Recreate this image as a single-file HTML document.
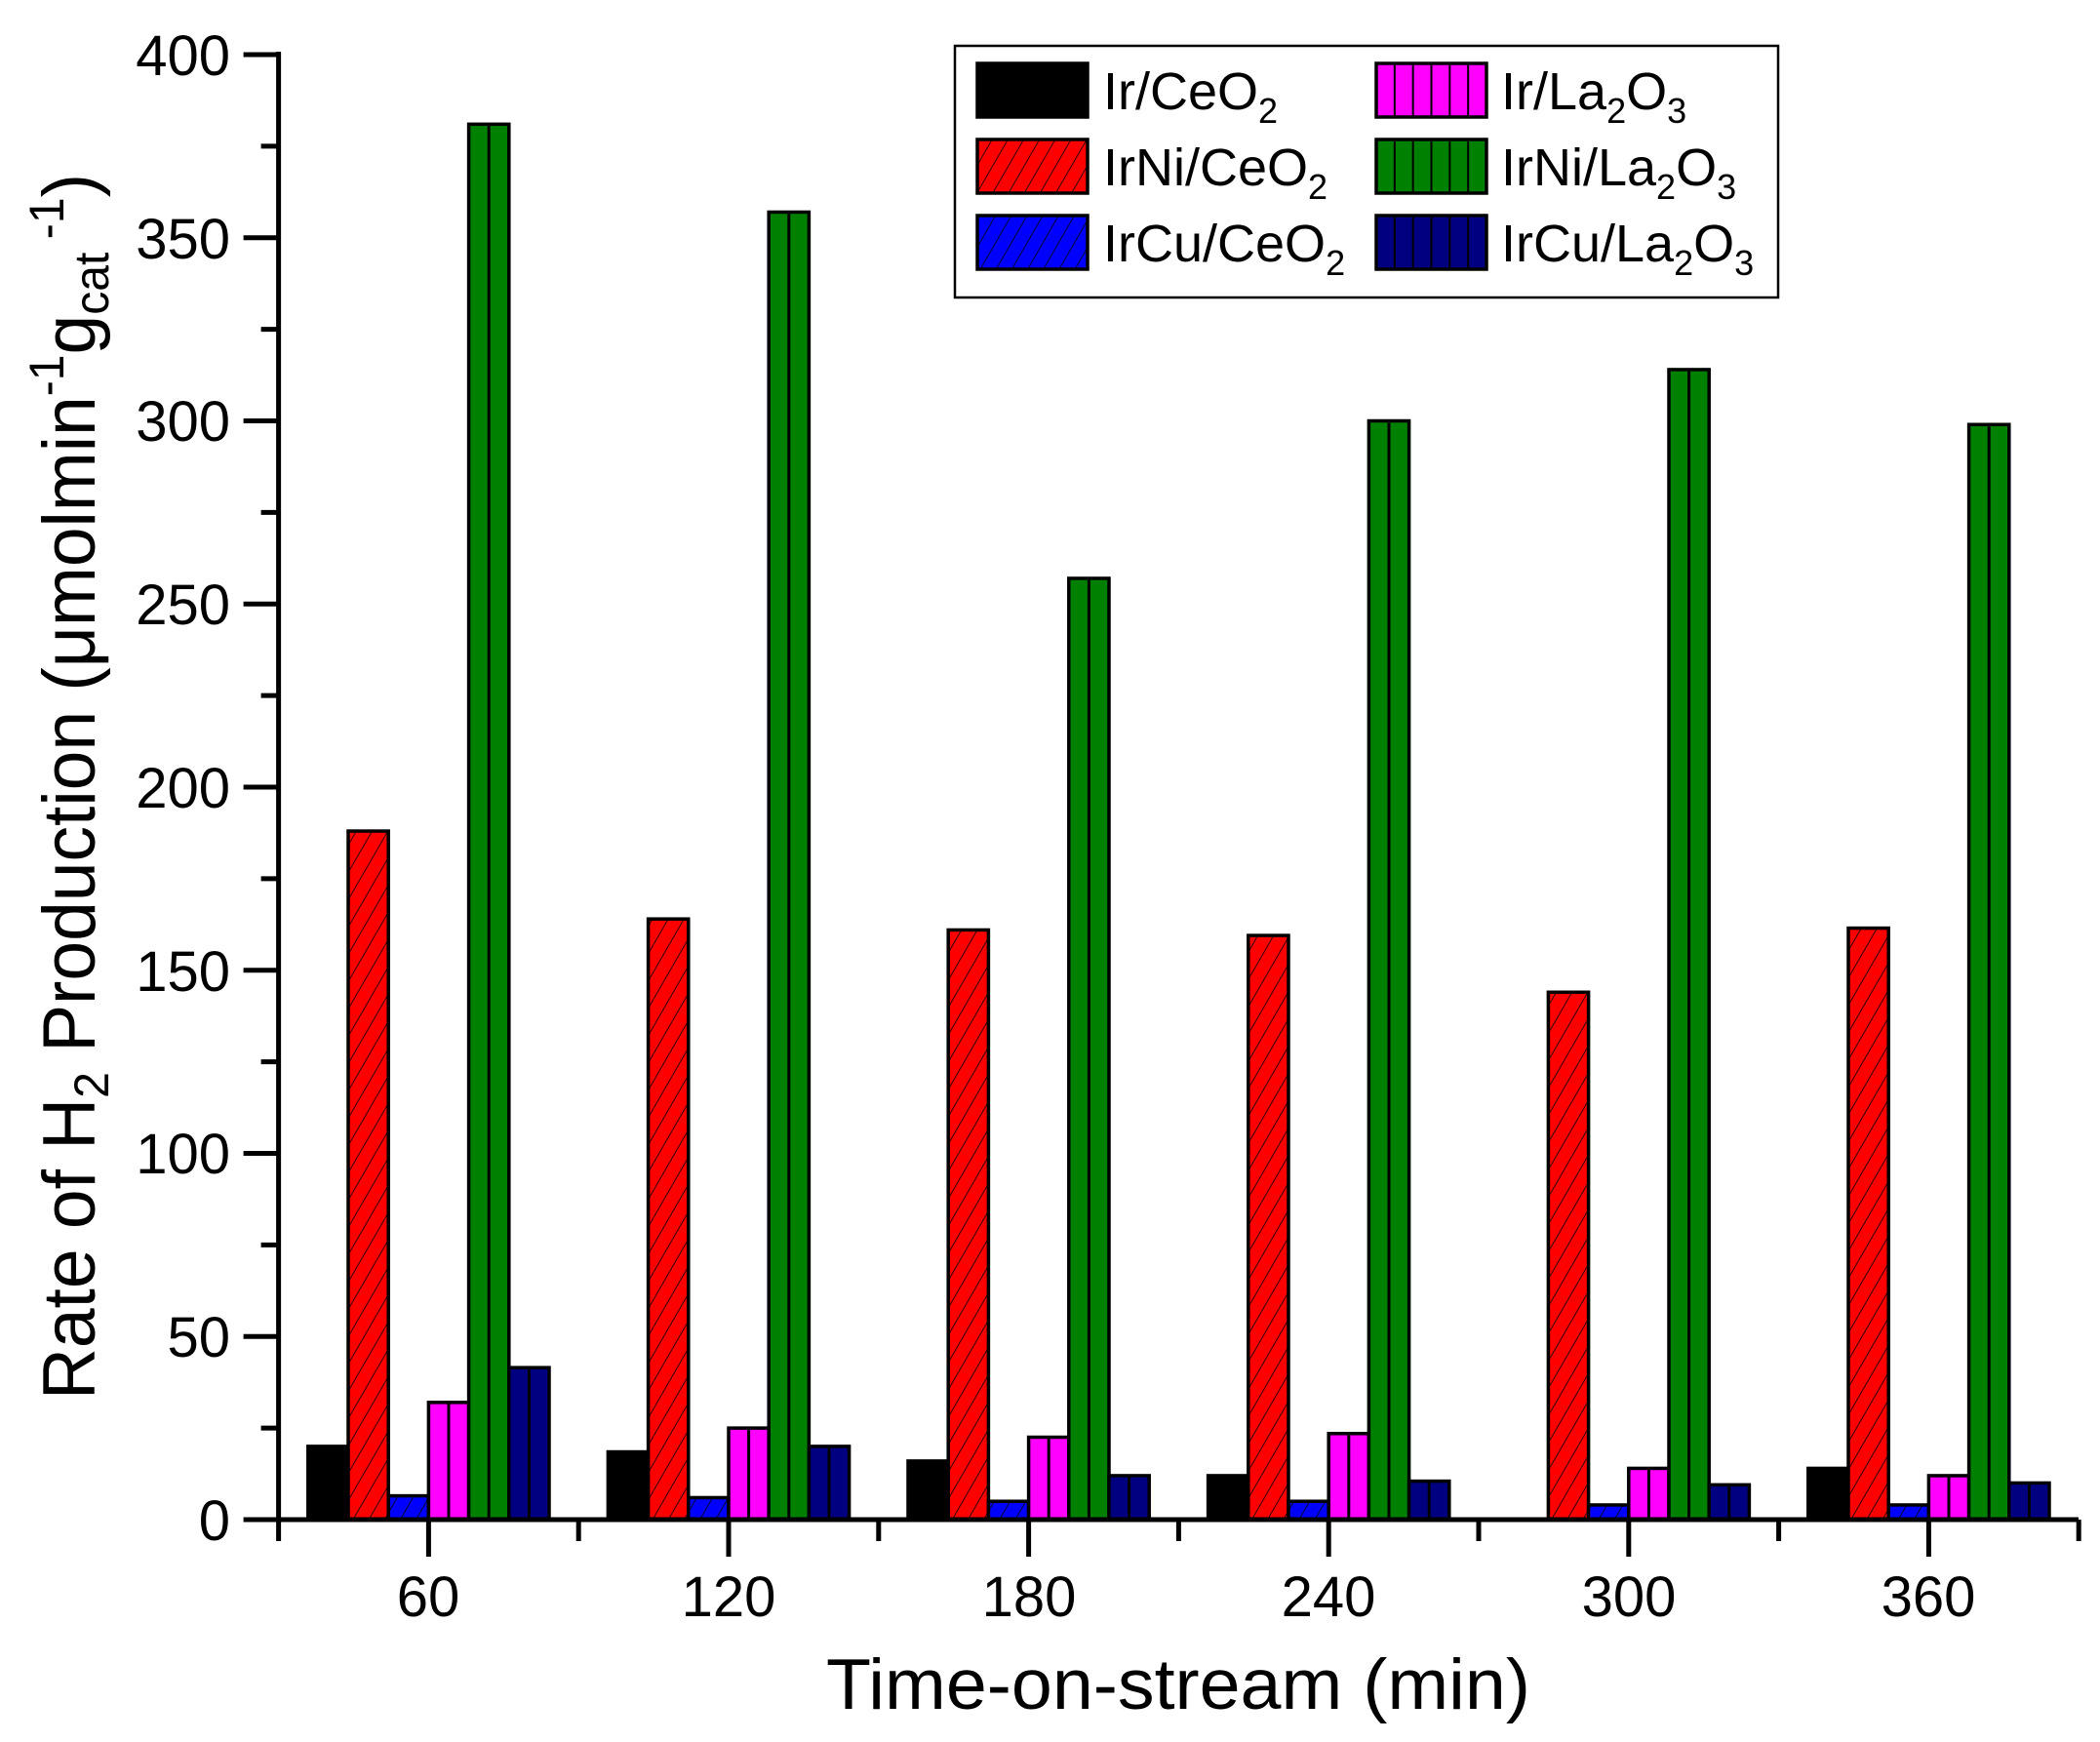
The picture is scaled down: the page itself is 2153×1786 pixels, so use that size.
<!DOCTYPE html>
<html><head><meta charset="utf-8"><style>
html,body{margin:0;padding:0;background:#fff}
svg{display:block}
text{font-family:"Liberation Sans",Arial,sans-serif;fill:#000}
</style></head><body>
<svg id="s" width="2153" height="1786" viewBox="0 0 2153 1786" xmlns="http://www.w3.org/2000/svg">
<defs>
<pattern id="hatch" patternUnits="userSpaceOnUse" width="14" height="14" patternTransform="rotate(30)">
<line x1="0" y1="0" x2="0" y2="14" stroke="#000" stroke-width="1.6"/>
</pattern>
</defs>
<g id="bars"></g>
<g id="axes" stroke="#000" stroke-width="5" fill="none"></g>
<g font-size="58" text-anchor="end">
<text x="236" y="1579">0</text>
<text x="236" y="1391">50</text>
<text x="236" y="1203">100</text>
<text x="236" y="1016">150</text>
<text x="236" y="828">200</text>
<text x="236" y="640">250</text>
<text x="236" y="452">300</text>
<text x="236" y="265">350</text>
<text x="236" y="77">400</text>
</g>
<g font-size="58" text-anchor="middle">
<text x="439" y="1657">60</text>
<text x="747" y="1657">120</text>
<text x="1055" y="1657">180</text>
<text x="1362" y="1657">240</text>
<text x="1670" y="1657">300</text>
<text x="1977" y="1657">360</text>
</g>
<text x="847" y="1752" font-size="73" textLength="722" lengthAdjust="spacingAndGlyphs">Time-on-stream (min)</text>
<text transform="translate(97,1435) rotate(-90)" font-size="76" textLength="1257" lengthAdjust="spacingAndGlyphs">Rate of H<tspan dy="14" font-size="50">2</tspan><tspan dy="-14"> Production (μmolmin</tspan><tspan dy="-32" font-size="50">-1</tspan><tspan dy="32">g</tspan><tspan dy="14" font-size="50">cat</tspan><tspan dy="-46" font-size="50"> -1</tspan><tspan dy="32">)</tspan></text>
<g id="legend">
<rect x="979" y="47" width="844" height="258" fill="#fff" stroke="#000" stroke-width="2.5"/>
<g font-size="54">
<text x="1131" y="112">Ir/CeO<tspan dy="14" font-size="36">2</tspan></text>
<text x="1131" y="190">IrNi/CeO<tspan dy="14" font-size="36">2</tspan></text>
<text x="1131" y="268">IrCu/CeO<tspan dy="14" font-size="36">2</tspan></text>
<text x="1539" y="112">Ir/La<tspan dy="14" font-size="36">2</tspan><tspan dy="-14">O</tspan><tspan dy="14" font-size="36">3</tspan></text>
<text x="1539" y="190">IrNi/La<tspan dy="14" font-size="36">2</tspan><tspan dy="-14">O</tspan><tspan dy="14" font-size="36">3</tspan></text>
<text x="1539" y="268">IrCu/La<tspan dy="14" font-size="36">2</tspan><tspan dy="-14">O</tspan><tspan dy="14" font-size="36">3</tspan></text>
</g>
</g>
</svg>
<script>
(function(){
var NS="http://www.w3.org/2000/svg";
function el(p,n,a){var e=document.createElementNS(NS,n);for(var k in a)e.setAttribute(k,a[k]);p.appendChild(e);return e;}
var bars=document.getElementById('bars'),axes=document.getElementById('axes'),leg=document.getElementById('legend');
var colors=['#000000','#ff0000','#0000ff','#ff00ff','#008000','#000080'];
var hatch=[0,1,1,0,0,0],vl=[0,0,0,1,1,1];
var data=[[20,188,6.5,32,381,41.5],[18.5,164,6,25,357,20],[16,161,5,22.5,257,12],[12,159.5,5,23.5,300,10.5],[0,144,4,14,314,9.5],[14,161.5,4,12,299,10]];
var y0=1558,sc=3.755,bw=41.2;
for(var g=0;g<6;g++){var cx=439.4+g*307.6;
 for(var k=0;k<6;k++){var v=data[g][k];if(v<=0)continue;var x=cx-123.6+k*bw,h=v*sc,y=y0-h;
  el(bars,'rect',{x:x,y:y,width:bw,height:h,fill:colors[k],stroke:'#000','stroke-width':3.5});
  if(hatch[k])el(bars,'rect',{x:x,y:y,width:bw,height:h,fill:'url(#hatch)'});
  if(vl[k])el(bars,'line',{x1:x+bw/2,y1:y,x2:x+bw/2,y2:y0,stroke:'#000','stroke-width':3});
 }}
el(axes,'line',{x1:285.6,y1:53,x2:285.6,y2:1560});
el(axes,'line',{x1:283,y1:1558,x2:2131,y2:1558});
for(var i=0;i<=16;i++){var y=y0-i*25*sc;var len=(i%2==0)?36:18;el(axes,'line',{x1:285.6-len,y1:y,x2:285.6,y2:y});}
for(var i=0;i<=6;i++){var x=285.6+i*307.6;el(axes,'line',{x1:x,y1:1558,x2:x,y2:1580});}
for(var i=0;i<6;i++){var x=439.4+i*307.6;el(axes,'line',{x1:x,y1:1558,x2:x,y2:1596});}
var sw=[[1002,65],[1002,143],[1002,221],[1411,65],[1411,143],[1411,221]];
for(var k=0;k<6;k++){var x=sw[k][0],y=sw[k][1],w=113,h=55;
 el(leg,'rect',{x:x,y:y,width:w,height:h,fill:colors[k],stroke:'#000','stroke-width':3.5});
 if(hatch[k])el(leg,'rect',{x:x,y:y,width:w,height:h,fill:'url(#hatch)'});
 if(vl[k])for(var j=1;j<6;j++)el(leg,'line',{x1:x+j*w/6,y1:y,x2:x+j*w/6,y2:y+h,stroke:'#000','stroke-width':2});
}
})();
</script>
</body></html>
